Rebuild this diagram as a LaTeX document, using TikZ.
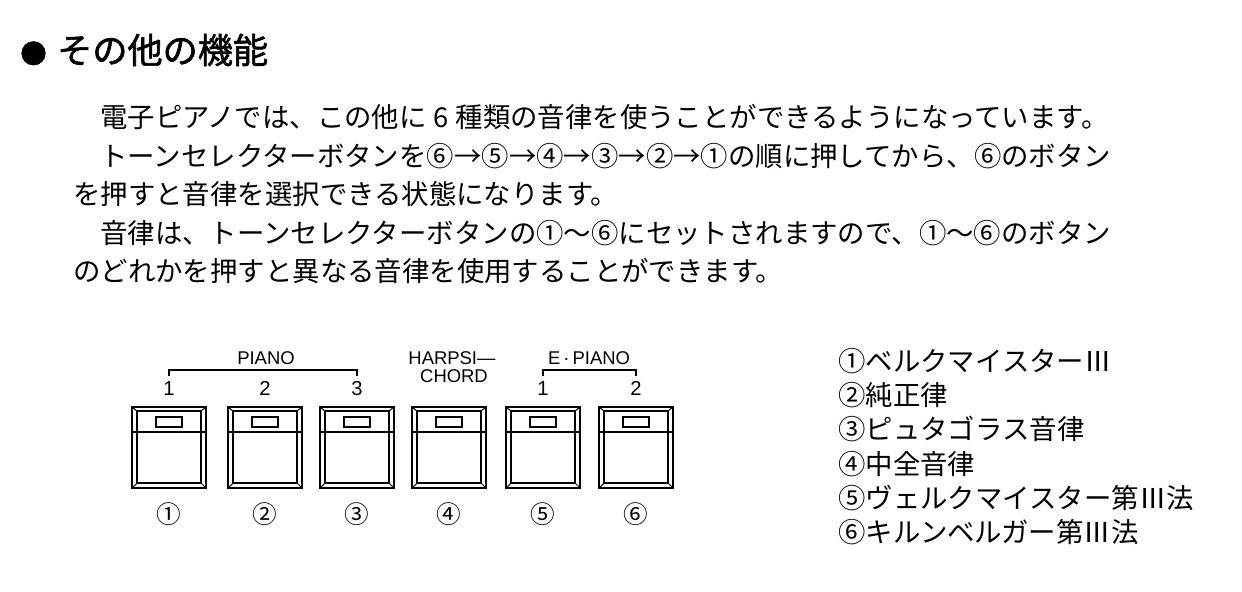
\documentclass[tikz,border=0pt]{standalone}
\usepackage{fontspec}
\setmainfont{Liberation Sans}
\newfontfamily\jp{Noto Sans CJK JP}
\newfontfamily\jphead{Noto Sans CJK JP}[FakeBold=1.6]
\tikzset{
  headline/.style={anchor=west, inner sep=0, font=\jphead\fontsize{20}{23}\selectfont},
  body/.style={anchor=west, inner sep=0, font=\jp\fontsize{15.6}{18}\selectfont},
  panel/.style={inner sep=0, font=\fontsize{10.5}{12}\selectfont},
  digit/.style={inner sep=0, anchor=base, font=\fontsize{11.5}{13}\selectfont},
  num/.style={inner sep=0, font=\jp\fontsize{14}{15}\selectfont},
  frame/.style={line width=1.2pt},
  inner/.style={line width=0.6pt}
}

\begin{document}
\begin{tikzpicture}[x=0.02cm, y=-0.02cm]
\useasboundingbox (0,0) rectangle (1242,592);
\node[headline] (title) at (20,50) {{\fontsize{15}{15}\selectfont●}\hspace{0.3em}その他の機能};
\node[body] (l1) at (100,117) {電子ピアノでは、この他に\hspace{.25em}6\hspace{.25em}種類の音律を使うことができるようになっています。};
\node[body] (l2) at (100,156) {トーンセレクターボタンを⑥→⑤→④→③→②→①の順に押してから、⑥のボタン};
\node[body] (l3) at (73,194) {を押すと音律を選択できる状態になります。};
\node[body] (l4) at (100,233) {音律は、トーンセレクターボタンの①〜⑥にセットされますので、①〜⑥のボタン};
\node[body] (l5) at (73,271) {のどれかを押すと異なる音律を使用することができます。};

\foreach \bx/\c [count=\n] in {132/①, 228/②, 320/③, 412/④, 506/⑤, 599/⑥} {
  \draw[frame] (\bx,407) rectangle +(74,81);
  \draw[inner] (\bx+5,411) rectangle (\bx+69,483);
  \draw[line width=1pt] (\bx,432) -- +(74,0);
  \draw[inner] (\bx,407) -- (\bx+5,411) (\bx+74,407) -- (\bx+69,411)
               (\bx,488) -- (\bx+5,483) (\bx+74,488) -- (\bx+69,483);
  \draw[line width=0.8pt] (\bx+24,417) rectangle +(26,10);
  \coordinate (c\n) at (\bx+37,370);
  \node[num] (n\n) at (\bx+37,514) {\c};
}

\draw[inner] (c1) ++(0,6) -- (c1) -- (c3) -- ++(0,6);
\draw[inner] (c5) ++(0,6) -- (c5) -- (c6) -- ++(0,6);
\node[panel] (piano) at (266,358) {PIANO};
\node[panel] (harpsi) at (452,358) {HARPSI—};
\node[panel] (chord) at (454,376) {CHORD};
\node[panel] (epiano) at (589,358) {E\,·\,PIANO};
\node[digit] (p1) at (169,395) {1};
\node[digit] (p2) at (265,395) {2};
\node[digit] (p3) at (357,395) {3};
\node[digit] (e1) at (543,395) {1};
\node[digit] (e2) at (636,395) {2};

\foreach \t [count=\k] in {①ベルクマイスターⅢ, ②純正律, ③ピュタゴラス音律, ④中全音律, ⑤ヴェルクマイスター第Ⅲ法, ⑥キルンベルガー第Ⅲ法}
  \node[body] (t\k) at (838,{361+34.2*(\k-1)}) {\t};
\end{tikzpicture}
\end{document}
